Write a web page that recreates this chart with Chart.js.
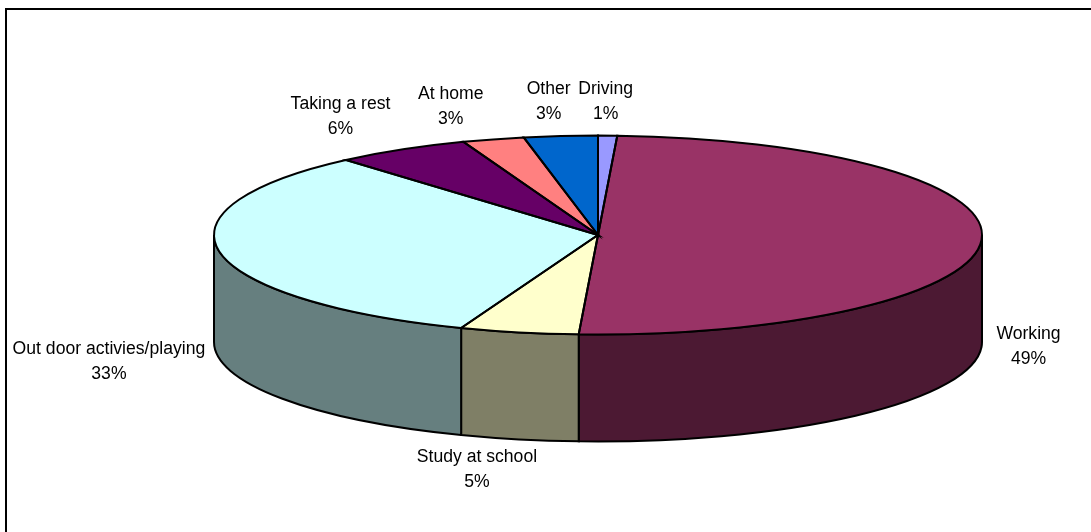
<!DOCTYPE html>
<html>
<head>
<meta charset="utf-8">
<title>Time use pie</title>
<script src="https://cdn.jsdelivr.net/npm/chart.js@4"></script>
<style>
  html, body { margin: 0; padding: 0; background: #fff; overflow: hidden; }
  #frame { position: absolute; left: 5px; top: 8px; right: 0; bottom: 0; border-top: 2px solid #000; border-left: 2px solid #000; }
  #pie { position: absolute; left: 0; top: 0; }
</style>
</head>
<body>
<div id="frame"></div>
<canvas id="pie" width="1091" height="532"></canvas>
<script>
const categories = ['Driving', 'Working', 'Study at school', 'Out door activies/playing', 'Taking a rest', 'At home', 'Other'];
// slice sizes as drawn in the picture
const shares = [0.8, 50.0, 5.0, 32.8, 5.7, 2.6, 3.1];
// percentages as printed on the labels
const percentLabels = ['1%', '49%', '5%', '33%', '6%', '3%', '3%'];
const colors = ['#9999FF', '#993366', '#FFFFCC', '#CCFFFF', '#660066', '#FF8080', '#0066CC'];

// label centre relative to the rim point at the middle of each slice
const labelOffsets = [[-2, -33.5], [47, 107], [-42, 137], [-111, 109.5], [-61, -33], [-42.5, -32.5], [-12, -34.5]];

const RIM_X = 384;
const RIM_Y = 99.5;
const DEPTH = 107;

// side wall is the slice colour at half brightness
const shade = (hex) => {
  const n = parseInt(hex.slice(1), 16);
  return `rgb(${(n >> 16) >> 1}, ${((n >> 8) & 255) >> 1}, ${(n & 255) >> 1})`;
};

const tiltedPie = {
  id: 'tiltedPie',
  beforeDatasetsDraw(chart) {
    const ctx = chart.ctx;
    const arcs = chart.getDatasetMeta(0).data;

    // Side walls, only the part facing the viewer
    ctx.lineWidth = 2;
    ctx.strokeStyle = '#000';
    arcs.forEach((arc, i) => {
      const from = Math.max(arc.startAngle, 0);
      const to = Math.min(arc.endAngle, Math.PI);
      if (to <= from) return;
      ctx.beginPath();
      ctx.ellipse(arc.x, arc.y, RIM_X, RIM_Y, 0, from, to);
      ctx.ellipse(arc.x, arc.y + DEPTH, RIM_X, RIM_Y, 0, to, from, true);
      ctx.closePath();
      ctx.fillStyle = shade(colors[i]);
      ctx.fill();
      ctx.stroke();
    });

    // Squash the library's round pie into the top face
    const first = arcs[0];
    ctx.save();
    ctx.translate(first.x, first.y);
    ctx.scale(RIM_X / first.outerRadius, RIM_Y / first.outerRadius);
    ctx.translate(-first.x, -first.y);
  },
  afterDatasetsDraw(chart) {
    const ctx = chart.ctx;
    ctx.restore();
    const arcs = chart.getDatasetMeta(0).data;

    // Slice outlines, drawn here so the line width is not squashed
    ctx.lineWidth = 2;
    ctx.strokeStyle = '#000';
    arcs.forEach((arc) => {
      ctx.beginPath();
      ctx.moveTo(arc.x, arc.y);
      ctx.ellipse(arc.x, arc.y, RIM_X, RIM_Y, 0, arc.startAngle, arc.endAngle);
      ctx.closePath();
      ctx.stroke();
    });

    // Labels
    ctx.font = '17.6px "Liberation Sans", Arial, sans-serif';
    ctx.fillStyle = '#000';
    ctx.textAlign = 'center';
    ctx.textBaseline = 'middle';
    arcs.forEach((arc, i) => {
      const mid = (arc.startAngle + arc.endAngle) / 2;
      const x = arc.x + RIM_X * Math.cos(mid) + labelOffsets[i][0];
      const y = arc.y + RIM_Y * Math.sin(mid) + labelOffsets[i][1];
      ctx.fillText(categories[i], x, y - 12.5);
      ctx.fillText(percentLabels[i], x, y + 12.5);
    });
  },
};

new Chart(document.getElementById('pie'), {
  type: 'pie',
  data: {
    labels: categories,
    datasets: [{
      data: shares,
      backgroundColor: colors,
      borderWidth: 0,
    }],
  },
  options: {
    responsive: false,
    animation: false,
    // puts the pie centre where the spokes meet in the picture
    layout: { padding: { left: 363, right: 258, top: 0, bottom: 62 } },
    plugins: {
      legend: { display: false },
      tooltip: { enabled: false },
    },
  },
  plugins: [tiltedPie],
});
</script>
</body>
</html>
